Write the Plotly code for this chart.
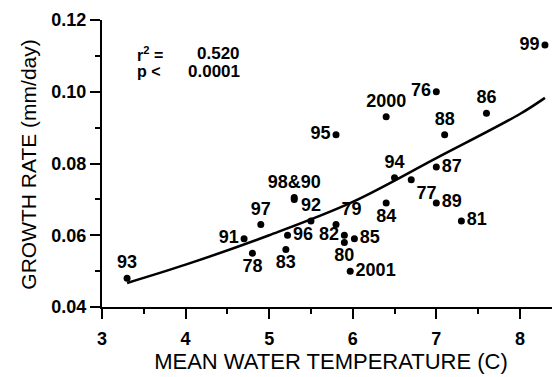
import plotly.graph_objects as go

# Data
years = ["93", "91", "78", "97", "98&90", "92", "96", "83", "79", "82", "80", "85", "2001",
         "84", "94", "77", "89", "81", "87", "88", "86", "76", "2000", "95", "99"]
temp = [3.3, 4.7, 4.8, 4.9, 5.3, 5.5, 5.22, 5.2, 5.8, 5.9, 5.9, 6.02, 5.97,
        6.4, 6.5, 6.7, 7.0, 7.3, 7.0, 7.1, 7.6, 7.0, 6.4, 5.8, 8.3]
growth = [0.048, 0.059, 0.055, 0.063, 0.0705, 0.064, 0.060, 0.056, 0.063, 0.060, 0.058, 0.059, 0.050,
          0.069, 0.076, 0.0755, 0.069, 0.064, 0.079, 0.088, 0.094, 0.100, 0.093, 0.088, 0.113]
label_pos = ["top center", "middle left", "bottom center", "top center", "top center",
             "top center", "middle right", "bottom center", "top right", "middle left", "bottom center",
             "middle right", "middle right", "bottom center", "top center", "bottom right", "middle right",
             "middle right", "middle right", "top center", "top center", "middle left", "top center",
             "middle left", "middle left"]

# second of the two overlapping points labelled "98&90"
dup_temp = [5.3]
dup_growth = [0.0700]

# Fitted curve
fit_x = [3.3, 4.0, 5.0, 6.0, 7.0, 8.0, 8.3]
fit_y = [0.0467, 0.0518, 0.0600, 0.0693, 0.0815, 0.0938, 0.0983]

x_ticks = [3, 4, 5, 6, 7, 8]
y_ticks = [0.04, 0.06, 0.08, 0.10, 0.12]

stat_names = ["r<sup>2</sup> =", "p <"]
stat_values = ["0.520", "0.0001"]

FONT = "Liberation Sans, Arial, sans-serif"
BOLD = dict(family=FONT, color="black", weight="bold")

fig = go.Figure()
fig.add_trace(go.Scatter(x=fit_x, y=fit_y, mode="lines",
                         line=dict(color="black", width=2.5, shape="spline"),
                         hoverinfo="skip", showlegend=False))
fig.add_trace(go.Scatter(x=dup_temp, y=dup_growth, mode="markers",
                         marker=dict(color="black", size=7), showlegend=False))
fig.add_trace(go.Scatter(x=temp, y=growth, mode="markers+text",
                         marker=dict(color="black", size=7),
                         text=years, textposition=label_pos,
                         textfont=dict(size=18, **BOLD),
                         showlegend=False, cliponaxis=False))

for i, (nm, val) in enumerate(zip(stat_names, stat_values)):
    yy = 0.1106 - i * 0.0050
    fig.add_annotation(x=3.39, y=yy, xref="x", yref="y", xanchor="left", yanchor="middle",
                       text=nm, showarrow=False, font=dict(size=16, **BOLD))
    fig.add_annotation(x=4.68, y=yy, xref="x", yref="y", xanchor="right", yanchor="middle",
                       text=val, showarrow=False, font=dict(size=17, **BOLD))

# y-axis title placed as an annotation (paper coordinates, left of the axis)
fig.add_annotation(x=-0.16, y=0.495, xref="paper", yref="paper", xanchor="center", yanchor="middle",
                   text="GROWTH RATE (mm/day)", textangle=-90, showarrow=False,
                   font=dict(family=FONT, size=21, color="black"))

axis_common = dict(showline=True, linecolor="black", linewidth=2, ticks="outside",
                   tickcolor="black", tickwidth=2, ticklen=10, showgrid=False, zeroline=False,
                   automargin=False,
                   tickfont=dict(size=18, **BOLD))

fig.update_xaxes(range=[3, 8.48], tickvals=x_ticks, ticktext=[str(v) for v in x_ticks],
                 ticklabelstandoff=4,
                 minor=dict(ticks="outside", dtick=0.5, tick0=3, ticklen=5, tickcolor="black", tickwidth=1.5),
                 title=dict(text="MEAN WATER TEMPERATURE (C)", standoff=2,
                            font=dict(family=FONT, size=22, color="black")),
                 **axis_common)
fig.update_yaxes(range=[0.04, 0.12], tickvals=y_ticks, ticktext=[f"{v:.2f}" for v in y_ticks],
                 minor=dict(ticks="outside", dtick=0.01, tick0=0.04, ticklen=5, tickcolor="black", tickwidth=1.5),
                 **axis_common)

fig.update_layout(width=554, height=369, margin=dict(l=94, r=2, t=12, b=70),
                  plot_bgcolor="white", paper_bgcolor="white")

fig.write_html("out.html")
